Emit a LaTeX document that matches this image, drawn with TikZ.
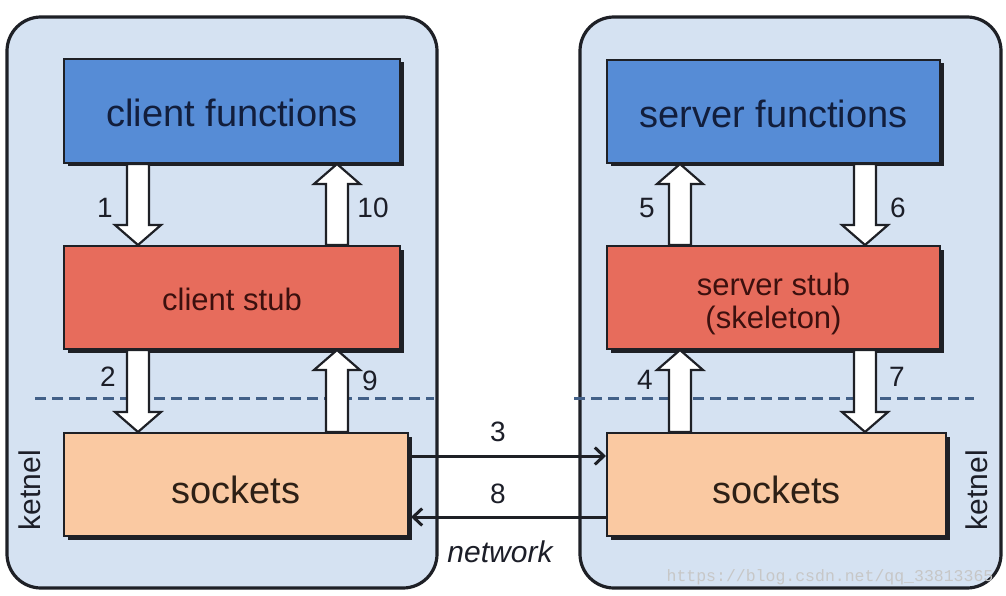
\documentclass[tikz,border=0pt]{standalone}
\usepackage{fontspec}
\setmainfont{Liberation Sans}
\newfontfamily\wmfont{Liberation Mono}
\usetikzlibrary{arrows.meta,calc,shadows}
\definecolor{contfill}{RGB}{213,226,242}
\definecolor{contline}{RGB}{30,32,38}
\definecolor{funcfill}{RGB}{86,140,214}
\definecolor{stubfill}{RGB}{231,108,92}
\definecolor{sockfill}{RGB}{250,201,162}
\definecolor{dashcol}{RGB}{66,96,136}
\definecolor{darktxt}{RGB}{28,30,40}
\definecolor{functxt}{RGB}{18,30,60}
\definecolor{stubtxt}{RGB}{60,16,14}
\definecolor{socktxt}{RGB}{45,32,22}
\newcommand\blkdn[2]{\draw[blk] let \p1=(#1), \p2=(#2) in
  (\x1-11pt,\y1) -- (\x1-11pt,\y2+20pt) -- (\x1-23pt,\y2+20pt) -- (\x1,\y2)
  -- (\x1+23pt,\y2+20pt) -- (\x1+11pt,\y2+20pt) -- (\x1+11pt,\y1) -- cycle;}
\newcommand\blkup[2]{\draw[blk] let \p1=(#1), \p2=(#2) in
  (\x1-11pt,\y1) -- (\x1-11pt,\y2-20pt) -- (\x1-23pt,\y2-20pt) -- (\x1,\y2)
  -- (\x1+23pt,\y2-20pt) -- (\x1+11pt,\y2-20pt) -- (\x1+11pt,\y1) -- cycle;}
\begin{document}
\begin{tikzpicture}[x=1pt,y=-1pt,
  container/.style={draw=contline, line width=3.2pt, fill=contfill, rounded corners=34pt, inner sep=0pt},
  boxbase/.style={draw=contline, line width=2pt, inner sep=0pt, align=center,
     drop shadow={shadow xshift=3.5pt, shadow yshift=-3.5pt, fill=contline, opacity=1}},
  funcbox/.style={boxbase, fill=funcfill, text=functxt, font=\fontsize{38}{40}\selectfont,
     text height=32pt, text depth=0pt},
  stubbox/.style={boxbase, fill=stubfill, text=stubtxt, font=\fontsize{31}{33}\selectfont,
     text height=25pt, text depth=0pt},
  sockbox/.style={boxbase, fill=sockfill, text=socktxt, font=\fontsize{38}{40}\selectfont,
     text height=37pt, text depth=0pt},
  blk/.style={draw=contline, line width=2.2pt, fill=white, line join=miter},
  num/.style={text=darktxt, font=\fontsize{28}{30}\selectfont, inner sep=0pt},
  netarr/.style={draw=contline, line width=3pt, -{Straight Barb[length=9pt, width=17pt, line width=3pt]}},
  kdash/.style={draw=dashcol, line width=3pt, dash pattern=on 11pt off 6pt},
  kern/.style={text=darktxt, font=\fontsize{30}{32}\selectfont, rotate=90, inner sep=0pt}
]
\useasboundingbox (0,0) rectangle (1006,596);
\fill[white] (0,0) rectangle (1006,596);

% containers
\node[container, minimum width=430pt, minimum height=571pt] (lc) at (222,302.5) {};
\node[container, minimum width=421pt, minimum height=571pt] (rc) at (790.5,302.5) {};

% watermark
\node[text=black!22, font=\wmfont\fontsize{16.5}{18}\selectfont, inner sep=0pt] (wm) at (830,577) {https://blog.csdn.net/qq\_33813365};

% kernel boundaries
\coordinate (dl1) at (35,398);
\coordinate (dl2) at (434,398);
\coordinate (dr1) at (574,398);
\coordinate (dr2) at (974,398);
\draw[kdash] (dl1) -- (dl2);
\draw[kdash] (dr1) -- (dr2);

% boxes
\node[funcbox, minimum width=336pt, minimum height=104pt] (cf) at (232,111) {client functions};
\node[stubbox, minimum width=336pt, minimum height=103pt] (cs) at (232,297.5) {client stub};
\node[sockbox, minimum width=344pt, minimum height=103pt] (ls) at (236,484.5) {sockets};
\node[funcbox, minimum width=333pt, minimum height=103pt] (sf) at (773.5,111.5) {server functions};
\node[stubbox, minimum width=333pt, minimum height=103pt, text height=61pt, text depth=0pt] (ss) at (773.5,297.5) {server stub\\(skeleton)};
\node[sockbox, minimum width=339pt, minimum height=103pt] (rs) at (776.5,484.5) {sockets};

% x positions of block arrows
\coordinate (xa) at (138,0);
\coordinate (xb) at (337,0);
\coordinate (xc) at (680,0);
\coordinate (xd) at (865,0);

% block arrows
\blkdn{cf.south -| xa}{cs.north -| xa}
\blkup{cs.north -| xb}{cf.south -| xb}
\blkdn{cs.south -| xa}{ls.north -| xa}
\blkup{ls.north -| xb}{cs.south -| xb}
\blkup{ss.north -| xc}{sf.south -| xc}
\blkdn{sf.south -| xd}{ss.north -| xd}
\blkup{rs.north -| xc}{ss.south -| xc}
\blkdn{ss.south -| xd}{rs.north -| xd}

% step numbers
\node[num] (n1) at (105,208) {1};
\node[num] (n10) at (373,208) {10};
\node[num] (n2) at (108,377) {2};
\node[num] (n9) at (370,381) {9};
\node[num] (n5) at (647,208) {5};
\node[num] (n6) at (898,208) {6};
\node[num] (n4) at (645,380) {4};
\node[num] (n7) at (897,377) {7};

% network
\coordinate (y3) at (0,456);
\coordinate (y8) at (0,517);
\draw[netarr] ([xshift=2pt]ls.east |- y3) -- (rs.west |- y3);
\draw[netarr] (rs.west |- y8) -- ([xshift=2pt]ls.east |- y8);
\node[num] (n3) at (498,432) {3};
\node[num] (n8) at (498,494) {8};
\node[text=darktxt, font=\itshape\fontsize{30}{32}\selectfont, inner sep=0pt] (net) at (500,552) {network};

% kernel labels
\node[kern] (kl) at (30,490) {ketnel};
\node[kern] (kr) at (977,490) {ketnel};
\end{tikzpicture}
\end{document}
